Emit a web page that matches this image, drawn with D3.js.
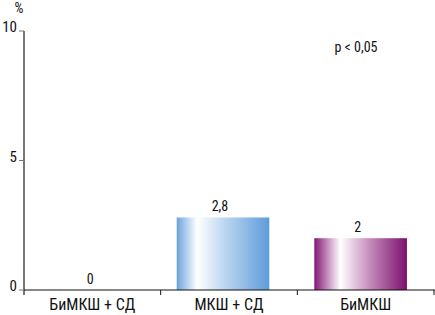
<!DOCTYPE html>
<html>
<head>
  <meta charset="utf-8">
  <script src="https://cdn.jsdelivr.net/npm/d3@7"></script>
  <style>
    body { margin: 0; background: #fff; }
    text { font-family: "Liberation Sans Narrow", "Arial Narrow", "Roboto Condensed", sans-serif; fill: #111; }
  </style>
</head>
<body>
  <svg width="435" height="315" id="mainsvg"></svg>
  <script>
    const categories = ['БиМКШ + СД', 'МКШ + СД', 'БиМКШ'];
    const values = [0, 2.8, 2];
    const valueLabels = ['0', '2,8', '2'];
    const yTicks = [0, 5, 10];

    const svg = d3.select('#mainsvg');
    const x0 = 24, x1 = 434, yTop = 31, yBottom = 290;

    const yScale = d3.scaleLinear().domain([0, 10]).range([yBottom, yTop]);
    // category bands (for axis ticks and labels)
    const xBand = d3.scaleBand().domain(categories).range([x0, x1]).padding(0);
    // bars are a bit narrower and sit slightly left of band centre
    const xScale = d3.scaleBand().domain(categories).range([x0, x1])
      .paddingInner(0.327).paddingOuter(0.153);
    const shift = -6;

    // gradients
    const defs = svg.append('defs');
    const grads = [
      { id: 'g0', stops: [['0%', '#8fb8e6'], ['100%', '#8fb8e6']] },
      { id: 'g1', stops: [['0%', '#6aa3dd'], ['22%', '#ffffff'], ['55%', '#b6d2ef'], ['100%', '#5e9bd9']] },
      { id: 'g2', stops: [['0%', '#851676'], ['28%', '#ffffff'], ['60%', '#c48bbb'], ['100%', '#7c0f6d']] }
    ];
    grads.forEach(gd => {
      const lg = defs.append('linearGradient').attr('id', gd.id)
        .attr('x1', '0%').attr('x2', '100%').attr('y1', '0%').attr('y2', '0%');
      gd.stops.forEach(s => lg.append('stop').attr('offset', s[0]).attr('stop-color', s[1]));
    });

    // bars
    svg.selectAll('rect.bar').data(categories).join('rect').attr('class', 'bar')
      .attr('x', d => xScale(d) + shift)
      .attr('width', xScale.bandwidth())
      .attr('y', (d, i) => yScale(values[i]))
      .attr('height', (d, i) => yBottom - yScale(values[i]))
      .attr('fill', (d, i) => `url(#g${i})`);

    // value labels
    svg.selectAll('text.val').data(categories).join('text').attr('class', 'val')
      .attr('x', (d, i) => values[i] === 0 ? xBand(d) + xBand.bandwidth() / 2 - 2
        : xScale(d) + shift + xScale.bandwidth() / 2 - 3)
      .attr('y', (d, i) => yScale(values[i]) - 6)
      .attr('text-anchor', 'middle')
      .attr('font-size', 14)
      .text((d, i) => valueLabels[i]);

    // y axis
    svg.append('line').attr('x1', x0).attr('x2', x0).attr('y1', yTop).attr('y2', yBottom + 5)
      .attr('stroke', '#777').attr('stroke-width', 2);
    svg.selectAll('line.ytick').data(yTicks).join('line').attr('class', 'ytick')
      .attr('x1', x0 - 5).attr('x2', x0).attr('y1', d => yScale(d)).attr('y2', d => yScale(d))
      .attr('stroke', '#777').attr('stroke-width', 1);
    svg.selectAll('text.ylab').data(yTicks).join('text').attr('class', 'ylab')
      .attr('x', x0 - 7).attr('y', d => yScale(d) + 1)
      .attr('text-anchor', 'end').attr('font-size', 15)
      .text(d => d);
    svg.append('text').attr('x', 19).attr('y', 13).attr('text-anchor', 'middle')
      .attr('font-size', 14).text('%');

    // x axis
    svg.append('line').attr('x1', x0).attr('x2', 435).attr('y1', yBottom).attr('y2', yBottom)
      .attr('stroke', '#111').attr('stroke-width', 1);
    const seps = categories.map(c => xBand(c) + xBand.bandwidth());
    svg.selectAll('line.xtick').data(seps).join('line').attr('class', 'xtick')
      .attr('x1', d => d).attr('x2', d => d).attr('y1', yBottom).attr('y2', yBottom + 5)
      .attr('stroke', '#111');
    svg.selectAll('text.xlab').data(categories).join('text').attr('class', 'xlab')
      .attr('x', d => xBand(d) + xBand.bandwidth() / 2)
      .attr('y', 310).attr('text-anchor', 'middle').attr('font-size', 16)
      .text(d => d);

    svg.append('text').attr('x', 356).attr('y', 52).attr('text-anchor', 'middle')
      .attr('font-size', 14).text('p < 0,05');
  </script>
</body>
</html>
